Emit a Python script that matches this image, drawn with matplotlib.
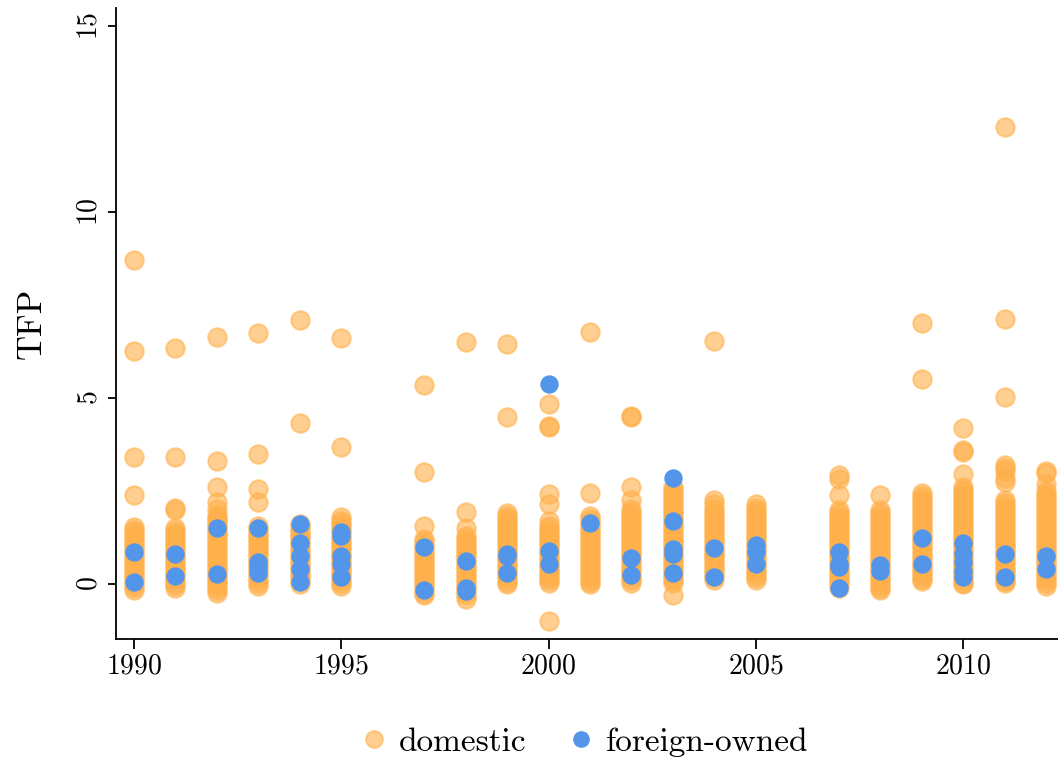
import matplotlib
matplotlib.use("Agg")
import matplotlib.pyplot as plt
from matplotlib.lines import Line2D

plt.rcParams['font.family'] = ['cmr10', 'DejaVu Serif']
plt.rcParams['axes.formatter.use_mathtext'] = True

years = [1990, 1991, 1992, 1993, 1994, 1995, 1997, 1998, 1999, 2000, 2001,
         2002, 2003, 2004, 2005, 2007, 2008, 2009, 2010, 2011, 2012]

domestic = {
    1990: [8.72, 6.25, 3.42, 2.38, 1.52, 1.45, 1.36, 1.28, 1.2, 1.12, 1.04, 0.96, 0.88, 0.8, 0.72,
           0.64, 0.56, 0.48, 0.4, 0.32, 0.24, 0.16, 0.08, 0.0, -0.08, -0.16],
    1991: [6.35, 3.4, 2.05, 2.0, 1.5, 1.42, 1.34, 1.26, 1.18, 1.1, 1.02, 0.94, 0.86, 0.78, 0.7,
           0.62, 0.54, 0.46, 0.38, 0.3, 0.22, 0.14, 0.06, -0.02, -0.1],
    1992: [6.65, 3.3, 2.6, 2.2, 2.02, 1.85, 1.77, 1.69, 1.61, 1.53, 1.45, 1.37, 1.29, 1.21, 1.13,
           1.05, 0.97, 0.89, 0.81, 0.73, 0.65, 0.57, 0.49, 0.41, 0.33, 0.25, 0.17, 0.09, 0.01,
           -0.07, -0.15, -0.25],
    1993: [6.75, 3.5, 2.55, 2.2, 1.55, 1.47, 1.39, 1.31, 1.23, 1.15, 1.07, 0.99, 0.91, 0.83, 0.75,
           0.67, 0.59, 0.51, 0.43, 0.35, 0.27, 0.19, 0.11, 0.03, -0.05],
    1994: [7.1, 4.32, 1.6, 1.52, 1.44, 1.36, 1.28, 1.2, 1.12, 1.04, 0.96, 0.88, 0.8, 0.72, 0.64,
           0.56, 0.48, 0.4, 0.32, 0.24, 0.16, 0.08, 0.0],
    1995: [6.62, 3.68, 1.8, 1.7, 1.62, 1.54, 1.46, 1.38, 1.3, 1.22, 1.14, 1.06, 0.98, 0.9, 0.82,
           0.74, 0.66, 0.58, 0.5, 0.42, 0.34, 0.26, 0.18, 0.1, 0.02, -0.05],
    1997: [5.35, 3.0, 1.55, 1.2, 1.12, 1.04, 0.96, 0.88, 0.8, 0.72, 0.64, 0.56, 0.48, 0.4, 0.32,
           0.24, 0.16, 0.08, 0.0, -0.08, -0.16, -0.24, -0.3],
    1998: [6.5, 1.93, 1.5, 1.3, 1.22, 1.14, 1.06, 0.98, 0.9, 0.82, 0.74, 0.66, 0.58, 0.5, 0.42,
           0.34, 0.26, 0.18, 0.1, 0.02, -0.06, -0.14, -0.22, -0.3, -0.4],
    1999: [6.45, 4.5, 1.9, 1.82, 1.74, 1.66, 1.58, 1.5, 1.42, 1.34, 1.26, 1.18, 1.1, 1.02, 0.94,
           0.86, 0.78, 0.7, 0.62, 0.54, 0.46, 0.38, 0.3, 0.22, 0.14, 0.06, 0.0],
    2000: [4.85, 4.25, 4.22, 2.42, 2.15, 1.7, 1.55, 1.47, 1.39, 1.31, 1.23, 1.15, 1.07, 0.99, 0.91,
           0.83, 0.75, 0.67, 0.59, 0.51, 0.43, 0.35, 0.27, 0.19, 0.11, 0.03, -1.0],
    2001: [6.78, 2.45, 1.82, 1.74, 1.66, 1.58, 1.5, 1.42, 1.34, 1.26, 1.18, 1.1, 1.02, 0.94, 0.86,
           0.78, 0.7, 0.62, 0.54, 0.46, 0.38, 0.3, 0.22, 0.14, 0.06, 0.0],
    2002: [4.52, 4.48, 2.6, 2.25, 2.02, 1.94, 1.86, 1.78, 1.7, 1.62, 1.54, 1.46, 1.38, 1.3, 1.22,
           1.14, 1.06, 0.98, 0.9, 0.82, 0.74, 0.66, 0.58, 0.5, 0.42, 0.34, 0.26, 0.18, 0.1, 0.04],
    2003: [2.6, 2.52, 2.44, 2.36, 2.28, 2.2, 2.12, 2.04, 1.96, 1.88, 1.8, 1.72, 1.64, 1.56, 1.48,
           1.4, 1.32, 1.24, 1.16, 1.08, 1.0, 0.92, 0.84, 0.76, 0.68, 0.6, 0.52, 0.44, 0.36, 0.28,
           0.2, 0.12, 0.04, -0.3],
    2004: [6.52, 2.25, 2.15, 2.02, 1.94, 1.86, 1.78, 1.7, 1.62, 1.54, 1.46, 1.38, 1.3, 1.22, 1.14,
           1.06, 0.98, 0.9, 0.82, 0.74, 0.66, 0.58, 0.5, 0.42, 0.34, 0.26, 0.18, 0.1],
    2005: [2.15, 2.05, 1.95, 1.87, 1.79, 1.71, 1.63, 1.55, 1.47, 1.39, 1.31, 1.23, 1.15, 1.07, 0.99,
           0.91, 0.83, 0.75, 0.67, 0.59, 0.51, 0.43, 0.35, 0.27, 0.19, 0.11],
    2007: [2.92, 2.82, 2.4, 2.0, 1.92, 1.84, 1.76, 1.68, 1.6, 1.52, 1.44, 1.36, 1.28, 1.2, 1.12,
           1.04, 0.96, 0.88, 0.8, 0.72, 0.64, 0.56, 0.48, 0.4, 0.32, 0.24, 0.16, 0.08, 0.0, -0.1],
    2008: [2.4, 1.98, 1.9, 1.82, 1.74, 1.66, 1.58, 1.5, 1.42, 1.34, 1.26, 1.18, 1.1, 1.02, 0.94,
           0.86, 0.78, 0.7, 0.62, 0.54, 0.46, 0.38, 0.3, 0.22, 0.14, 0.06, -0.02, -0.1, -0.15],
    2009: [7.02, 5.5, 2.45, 2.37, 2.29, 2.21, 2.13, 2.05, 1.97, 1.89, 1.81, 1.73, 1.65, 1.57, 1.49,
           1.41, 1.33, 1.25, 1.17, 1.09, 1.01, 0.93, 0.85, 0.77, 0.69, 0.61, 0.53, 0.45, 0.37,
           0.29, 0.21, 0.13, 0.08],
    2010: [4.2, 3.6, 3.55, 2.95, 2.6, 2.52, 2.44, 2.36, 2.28, 2.2, 2.12, 2.04, 1.96, 1.88, 1.8,
           1.72, 1.64, 1.56, 1.48, 1.4, 1.32, 1.24, 1.16, 1.08, 1.0, 0.92, 0.84, 0.76, 0.68, 0.6,
           0.52, 0.44, 0.36, 0.28, 0.2, 0.12, 0.04, 0.0],
    2011: [12.28, 7.12, 5.03, 3.2, 3.12, 3.05, 2.85, 2.75, 2.25, 2.17, 2.09, 2.01, 1.93, 1.85, 1.77,
           1.69, 1.61, 1.53, 1.45, 1.37, 1.29, 1.21, 1.13, 1.05, 0.97, 0.89, 0.81, 0.73, 0.65,
           0.57, 0.49, 0.41, 0.33, 0.25, 0.17, 0.09, 0.03],
    2012: [3.05, 2.97, 2.7, 2.5, 2.42, 2.34, 2.26, 2.18, 2.1, 2.02, 1.94, 1.86, 1.78, 1.7, 1.62,
           1.54, 1.46, 1.38, 1.3, 1.22, 1.14, 1.06, 0.98, 0.9, 0.82, 0.74, 0.66, 0.58, 0.5, 0.42,
           0.34, 0.26, 0.18, 0.1, 0.02, -0.05],
}

foreign = {
    1990: [0.85, 0.05],
    1991: [0.82, 0.22],
    1992: [1.5, 0.27],
    1993: [1.5, 0.6, 0.45, 0.3],
    1994: [1.62, 1.1, 0.75, 0.4, 0.05],
    1995: [1.4, 1.3, 0.75, 0.55, 0.2],
    1997: [1.0, -0.15],
    1998: [0.62, -0.1, -0.2],
    1999: [0.82, 0.75, 0.3],
    2000: [5.38, 0.9, 0.55],
    2001: [1.65],
    2002: [0.7, 0.25],
    2003: [2.85, 1.7, 0.95, 0.8, 0.3],
    2004: [0.98, 0.18],
    2005: [1.05, 0.85, 0.55],
    2007: [0.85, 0.55, 0.45, -0.1],
    2008: [0.5, 0.35],
    2009: [1.25, 0.55],
    2010: [1.1, 0.8, 0.6, 0.35, 0.2],
    2011: [0.8, 0.2],
    2012: [0.75, 0.4],
}

xticks = [1990, 1995, 2000, 2005, 2010]
yticks = [0, 5, 10, 15]

orange = '#FFB04A'
blue = '#5395E9'

fig = plt.figure(figsize=(10.58, 7.61), dpi=100)
ax = fig.add_axes([0.1096, 0.1603, 0.8904, 0.8292])

dx, dy = [], []
for yr in years:
    for v in domestic[yr]:
        dx.append(yr)
        dy.append(v)
fx, fy = [], []
for yr in years:
    for v in foreign[yr]:
        fx.append(yr)
        fy.append(v)

ax.scatter(dx, dy, s=175, facecolor=orange, edgecolor=orange, alpha=0.6,
           linewidths=1.5, zorder=2, clip_on=False)
ax.scatter(fx, fy, s=175, color=blue, linewidths=0, zorder=3, clip_on=False)

ax.set_xlim(1989.566, 2012.29)
ax.set_ylim(-1.478, 15.48)
ax.set_xticks(xticks)
ax.set_yticks(yticks)
ax.tick_params(axis='x', labelsize=20, length=7, width=1.3, pad=3)
ax.tick_params(axis='y', labelsize=20, length=6, width=1.3, pad=4)
for lab in ax.get_yticklabels():
    lab.set_rotation(90)
    lab.set_va('center')
ax.spines['top'].set_visible(False)
ax.spines['right'].set_visible(False)
ax.spines['left'].set_linewidth(1.3)
ax.spines['bottom'].set_linewidth(1.3)
ax.set_ylabel('TFP', fontsize=25, labelpad=20)

handles = [
    Line2D([], [], marker='o', linestyle='', markersize=12, markerfacecolor=orange,
           markeredgecolor=orange, alpha=0.6, markeredgewidth=1.5, label='domestic'),
    Line2D([], [], marker='o', linestyle='', markersize=12, markerfacecolor=blue,
           markeredgecolor=blue, markeredgewidth=0, label='foreign-owned'),
]
fig.legend(handles=handles, loc='center', bbox_to_anchor=(0.551, 0.025), ncol=2,
           frameon=False, fontsize=24, handletextpad=0.25, columnspacing=1.15,
           handlelength=1.0)

fig.savefig('out.png', dpi=100)
